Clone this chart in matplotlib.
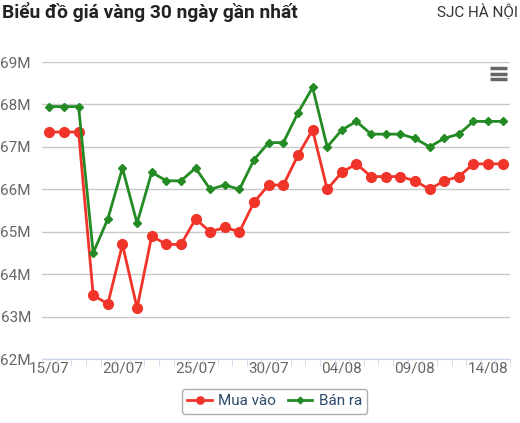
import matplotlib.pyplot as plt
from matplotlib.lines import Line2D

plt.rcParams['font.family'] = ['Roboto', 'DejaVu Sans']

# 15/07 -> 15/08
dates = ['15/07', '16/07', '17/07', '18/07', '19/07', '20/07', '21/07', '22/07',
         '23/07', '24/07', '25/07', '26/07', '27/07', '28/07', '29/07', '30/07',
         '31/07', '01/08', '02/08', '03/08', '04/08', '05/08', '06/08', '07/08',
         '08/08', '09/08', '10/08', '11/08', '12/08', '13/08', '14/08', '15/08']
mua_vao = [67.35, 67.35, 67.35, 63.5, 63.3, 64.7, 63.2, 64.9, 64.7, 64.7, 65.3,
           65.0, 65.1, 65.0, 65.7, 66.1, 66.1, 66.8, 67.4, 66.0, 66.4, 66.6,
           66.3, 66.3, 66.3, 66.2, 66.0, 66.2, 66.3, 66.6, 66.6, 66.6]
ban_ra = [67.95, 67.95, 67.95, 64.5, 65.3, 66.5, 65.2, 66.4, 66.2, 66.2, 66.5,
          66.0, 66.1, 66.0, 66.7, 67.1, 67.1, 67.8, 68.4, 67.0, 67.4, 67.6,
          67.3, 67.3, 67.3, 67.2, 67.0, 67.2, 67.3, 67.6, 67.6, 67.6]
y_ticks = [62, 63, 64, 65, 66, 67, 68, 69]

red = '#f0342a'
green = '#248a24'

fig = plt.figure(figsize=(5.2, 4.23), dpi=100)
ax = fig.add_axes([0.0808, 0.1513, 0.9, 0.7021])

x = range(len(dates))
ax.plot(x, mua_vao, color=red, lw=2, marker='o', ms=7, label='Mua vào', zorder=3)
ax.plot(x, ban_ra, color=green, lw=2, marker='D', ms=4.5, label='Bán ra', zorder=3)

ax.set_xlim(-0.5, len(dates) - 0.5)
ax.set_ylim(62, 69)
ax.set_yticks(y_ticks)
ax.set_yticklabels([f'{v}M' for v in y_ticks])
ax.yaxis.grid(True, color='#c8c8c8', lw=1)
ax.set_axisbelow(True)
ax.tick_params(axis='y', length=0, pad=8, labelsize=11, labelcolor='#666666')
for lbl in ax.get_yticklabels():
    lbl.set_va('center_baseline')

major = list(range(0, len(dates), 5))
ax.set_xticks(major)
ax.set_xticklabels([dates[i] for i in major])
ax.set_xticks([i - 0.5 for i in range(len(dates) + 1)], minor=True)
ax.tick_params(axis='x', which='major', length=0, pad=2, labelsize=11, labelcolor='#666666')
ax.tick_params(axis='x', which='minor', length=5, color='#ccd6eb')

for s in ['left', 'right', 'top']:
    ax.spines[s].set_visible(False)
ax.spines['bottom'].set_color('#ccd6eb')

leg = ax.legend(loc='upper center', bbox_to_anchor=(0.497, -0.075), ncol=2,
                frameon=True, fontsize=11, handlelength=1.6, handletextpad=0.4,
                columnspacing=0.8, borderpad=0.35, fancybox=True, markerscale=0.75)
leg.get_frame().set_edgecolor('#999999')
leg.get_frame().set_linewidth(1)
for t in leg.get_texts():
    t.set_color('#2b4a6b')

fig.text(0.004, 0.972, 'Biểu đồ giá vàng 30 ngày gần nhất', fontsize=13.8,
         fontweight='bold', color='#222222', ha='left', va='center')
fig.text(0.997, 0.972, 'SJC HÀ NỘI', fontsize=11, color='#333333',
         ha='right', va='center')

# menu icon
for yy in [68, 74, 79]:
    fig.add_artist(Line2D([490 / 520, 507 / 520], [1 - yy / 423, 1 - yy / 423],
                          color='#666666', lw=2.5, solid_capstyle='butt'))

fig.savefig('out.png', dpi=100)
